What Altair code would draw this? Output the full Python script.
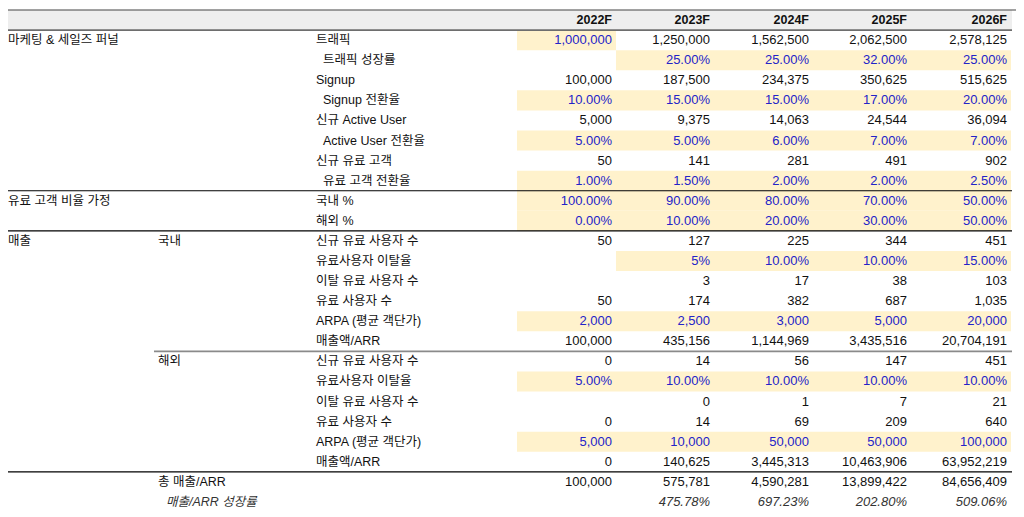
import altair as alt
import pandas as pd

# ---------------- data ----------------
years = ["2022F", "2023F", "2024F", "2025F", "2026F"]

row_labels = [
    "트래픽", "트래픽 성장률", "Signup", "Signup 전환율",
    "신규 Active User", "Active User 전환율", "신규 유료 고객", "유료 고객 전환율",
    "국내 %", "해외 %",
    "신규 유료 사용자 수", "유료사용자 이탈율", "이탈 유료 사용자 수", "유료 사용자 수",
    "ARPA (평균 객단가)", "매출액/ARR",
    "신규 유료 사용자 수", "유료사용자 이탈율", "이탈 유료 사용자 수", "유료 사용자 수",
    "ARPA (평균 객단가)", "매출액/ARR",
]
# labels that are indented in the sheet
row_indent = [0, 1, 0, 1, 0, 1, 0, 1, 0, 0,
              0, 0, 0, 0, 0, 0, 0, 0, 0, 0, 0, 0]

section_labels = ["마케팅 & 세일즈 퍼널", "유료 고객 비율 가정", "매출"]
section_rows = [1, 9, 11]
group_labels = ["국내", "해외", "총 매출/ARR"]
group_rows = [11, 17, 23]
growth_label = "매출/ARR 성장률"
growth_row = 24

v2022 = ["1,000,000", "", "100,000", "10.00%", "5,000", "5.00%", "50", "1.00%",
         "100.00%", "0.00%", "50", "", "", "50", "2,000", "100,000",
         "0", "5.00%", "", "0", "5,000", "0", "100,000", ""]
v2023 = ["1,250,000", "25.00%", "187,500", "15.00%", "9,375", "5.00%", "141", "1.50%",
         "90.00%", "10.00%", "127", "5%", "3", "174", "2,500", "435,156",
         "14", "10.00%", "0", "14", "10,000", "140,625", "575,781", "475.78%"]
v2024 = ["1,562,500", "25.00%", "234,375", "15.00%", "14,063", "6.00%", "281", "2.00%",
         "80.00%", "20.00%", "225", "10.00%", "17", "382", "3,000", "1,144,969",
         "56", "10.00%", "1", "69", "50,000", "3,445,313", "4,590,281", "697.23%"]
v2025 = ["2,062,500", "32.00%", "350,625", "17.00%", "24,544", "7.00%", "491", "2.00%",
         "70.00%", "30.00%", "344", "10.00%", "38", "687", "5,000", "3,435,516",
         "147", "10.00%", "7", "209", "50,000", "10,463,906", "13,899,422", "202.80%"]
v2026 = ["2,578,125", "25.00%", "515,625", "20.00%", "36,094", "7.00%", "902", "2.50%",
         "50.00%", "50.00%", "451", "15.00%", "103", "1,035", "20,000", "20,704,191",
         "451", "10.00%", "21", "640", "100,000", "63,952,219", "84,656,409", "509.06%"]
values = [v2022, v2023, v2024, v2025, v2026]

# which cells are inputs (blue text on yellow), one string per row, one char per year
input_pattern = ["10000", "01111", "00000", "11111", "00000", "11111", "00000", "11111",
                 "11111", "11111", "00000", "01111", "00000", "00000", "11111", "00000",
                 "00000", "11111", "00000", "00000", "11111", "00000", "00000", "00000"]

# ---------------- layout / style ----------------
COL_LEFT = [516, 615, 713, 812, 910]
COL_RIGHT = [615, 713, 812, 910, 1010]
X_A, X_B, X_C = 7, 157, 315
INDENT = 7
FONT = "Liberation Sans, Arial, Noto Sans CJK KR, sans-serif"
BLUE = "#2323c8"
BLACK = "#111111"
YELLOW = "#fff2cc"
HEADER_BG = "#eeeeee"

xs = alt.Scale(domain=[7, 1015], range=[0, 1008])
ys = alt.Scale(domain=[-0.6, 24.3], reverse=True)

# ---------------- tables ----------------
cells, fills = [], []
for j, yr in enumerate(years):
    for r in range(1, 25):
        txt = values[j][r - 1]
        is_in = input_pattern[r - 1][j] == "1"
        if is_in:
            fills.append({"x": COL_LEFT[j], "x2": COL_RIGHT[j], "y": r - 0.5, "y2": r + 0.5})
        if txt:
            cells.append({"x": COL_RIGHT[j], "row": r, "text": txt,
                          "color": BLUE if is_in else ("#333333" if r == growth_row else BLACK),
                          "italic": r == growth_row})
cells = pd.DataFrame(cells)
fills = pd.DataFrame(fills)

labels = []
for t, r in zip(section_labels, section_rows):
    labels.append({"x": X_A, "row": r, "text": t, "indent": 0})
for t, r in zip(group_labels, group_rows):
    labels.append({"x": X_B, "row": r, "text": t, "indent": 0})
for i, t in enumerate(row_labels):
    labels.append({"x": X_C, "row": i + 1, "text": t, "indent": row_indent[i]})
labels = pd.DataFrame(labels)

header = pd.DataFrame({"x": COL_RIGHT, "row": [0] * 5, "text": years})
header_bg = pd.DataFrame({"x": [0], "x2": [1011], "y": [-0.5], "y2": [0.5]})

lines = pd.DataFrame({
    "y": [-0.5, 0.5, 8.5, 10.5, 16.5, 22.5],
    "x": [0, 0, 0, 0, 153, 0],
    "x2": [1015, 1011, 1011, 1011, 1011, 1011],
    "color": ["#444444", "#6e6e6e", "#000000", "#000000", "#8a8a8a", "#000000"],
    "w": [1.2, 1.6, 1.1, 1.1, 1.6, 1.1],
})

# ---------------- layers ----------------
X = lambda: alt.X("x:Q", scale=xs, axis=None)

bg = alt.Chart(header_bg).mark_rect(color=HEADER_BG).encode(
    x=X(), x2="x2:Q", y=alt.Y("y:Q", scale=ys, axis=None), y2="y2:Q")

yellow = alt.Chart(fills).mark_rect(color=YELLOW).encode(
    x=X(), x2="x2:Q", y=alt.Y("y:Q", scale=ys, axis=None), y2="y2:Q")

rules = alt.Chart(lines).mark_rule().encode(
    x=X(), x2="x2:Q", y=alt.Y("y:Q", scale=ys, axis=None),
    color=alt.Color("color:N", scale=None),
    strokeWidth=alt.StrokeWidth("w:Q", scale=None))

hdr = alt.Chart(header).mark_text(align="right", baseline="middle", dx=-4, font=FONT,
                                  fontSize=12.5, fontWeight="bold", color="#111111").encode(
    x=X(), y=alt.Y("row:Q", scale=ys, axis=None), text="text:N")

lab = alt.Chart(labels[labels["indent"] == 0]).mark_text(
    align="left", baseline="middle", font=FONT, fontSize=12.5, color=BLACK).encode(
    x=X(), y=alt.Y("row:Q", scale=ys, axis=None), text="text:N")

lab_ind = alt.Chart(labels[labels["indent"] == 1]).mark_text(
    align="left", baseline="middle", dx=INDENT, font=FONT, fontSize=12.5, color=BLACK).encode(
    x=X(), y=alt.Y("row:Q", scale=ys, axis=None), text="text:N")

growth = alt.Chart(pd.DataFrame({"x": [X_B], "row": [growth_row], "text": [growth_label]})).mark_text(
    align="left", baseline="middle", dx=8, font=FONT, fontSize=12.5, fontStyle="italic",
    color="#333333").encode(
    x=X(), y=alt.Y("row:Q", scale=ys, axis=None), text="text:N")

num = alt.Chart(cells[~cells["italic"]]).mark_text(align="right", baseline="middle", dx=-4,
                                                  font=FONT, fontSize=13).encode(
    x=X(), y=alt.Y("row:Q", scale=ys, axis=None),
    text="text:N", color=alt.Color("color:N", scale=None))

num_it = alt.Chart(cells[cells["italic"]]).mark_text(align="right", baseline="middle", dx=-4,
                                                    font=FONT, fontSize=13, fontStyle="italic").encode(
    x=X(), y=alt.Y("row:Q", scale=ys, axis=None),
    text="text:N", color=alt.Color("color:N", scale=None))

chart = alt.layer(bg, yellow, rules, hdr, lab, lab_ind, growth, num, num_it).properties(
    width=1008, height=500,
    autosize=alt.AutoSizeParams(type="none"),
    padding=0,
    background="white",
).configure_view(stroke=None)

chart.save("out.html", embed_options={"renderer": "svg", "actions": False})
